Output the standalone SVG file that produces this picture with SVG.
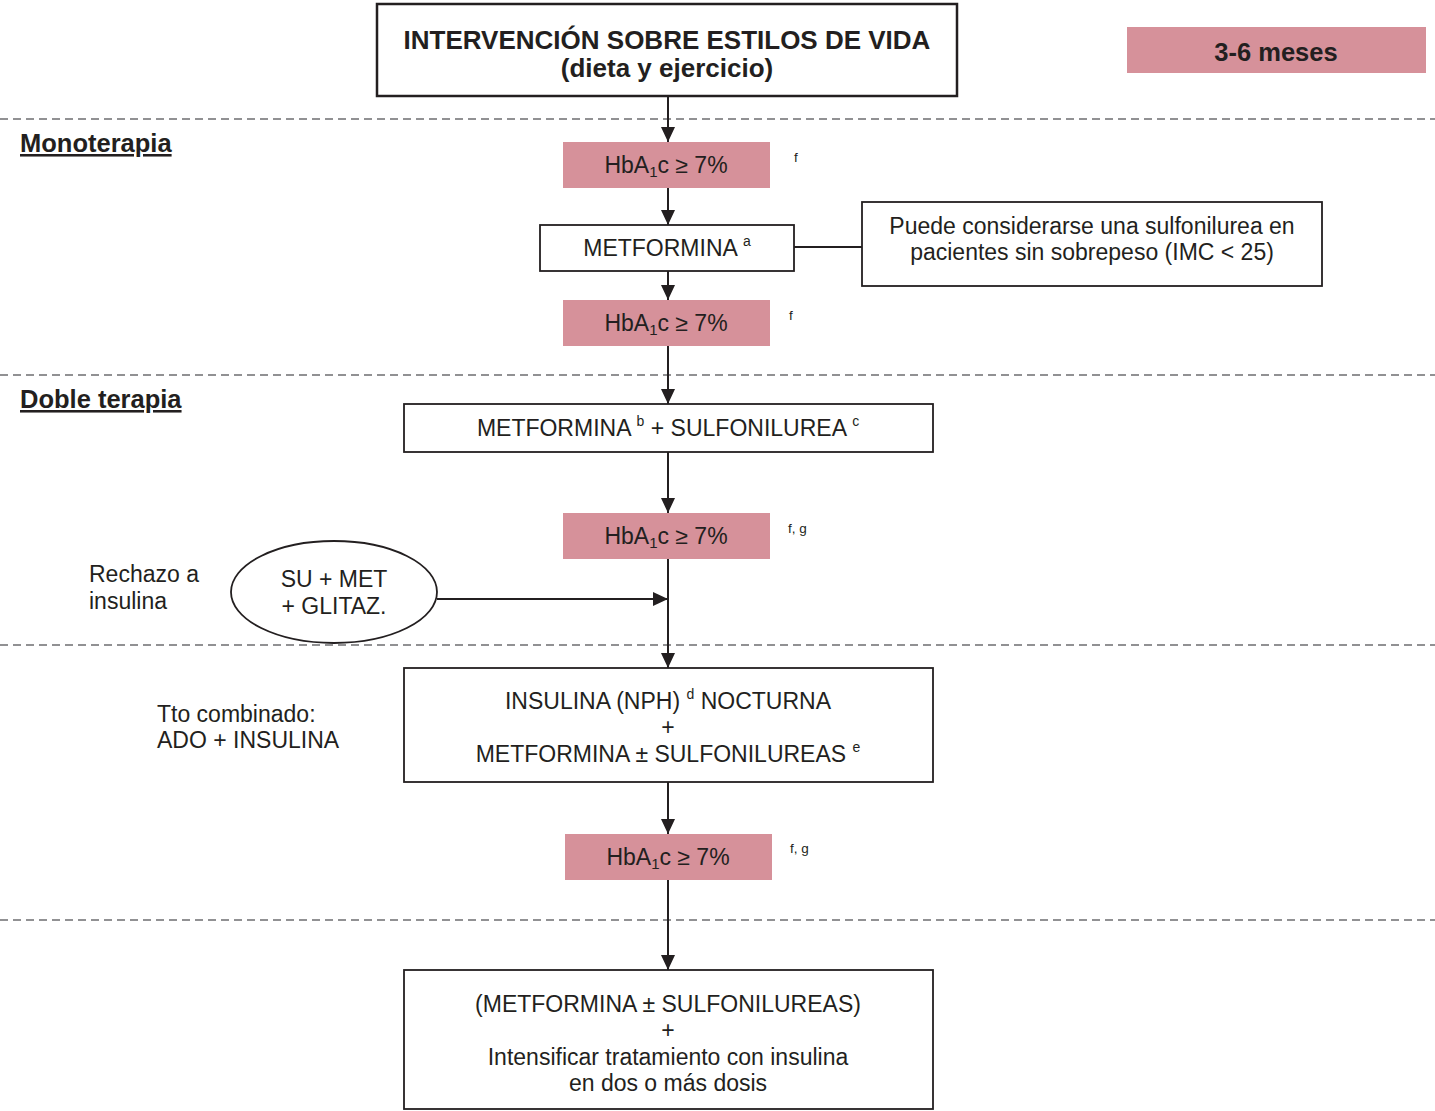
<svg xmlns="http://www.w3.org/2000/svg" width="1435" height="1111" viewBox="0 0 1435 1111">
<style>
text{font-family:"Liberation Sans",Arial,sans-serif;fill:#231F20;font-size:23px}
.b{font-weight:bold;font-size:25.5px}
.c{text-anchor:middle}
.sm{font-size:14px}
.fn{font-size:13.5px}
.sub{font-size:15px}
.box{fill:#fff;stroke:#231F20;stroke-width:1.8}
.pink{fill:#D6919A}
.dash{stroke:#6d6e70;stroke-width:1.6;stroke-dasharray:8 5;fill:none}
.ln{stroke:#231F20;stroke-width:2;fill:none}
.u{text-decoration:underline}
</style>
<defs>
<marker id="ah" markerWidth="15" markerHeight="14" refX="15" refY="7" orient="auto" markerUnits="userSpaceOnUse">
<path d="M0,0 L15,7 L0,14 Z" fill="#231F20"/>
</marker>
</defs>
<g id="separators">
<line class="dash" x1="0" y1="119" x2="1435" y2="119"/>
<line class="dash" x1="0" y1="375" x2="1435" y2="375"/>
<line class="dash" x1="0" y1="645" x2="1435" y2="645"/>
<line class="dash" x1="0" y1="920" x2="1435" y2="920"/>
</g>
<g id="section-labels">
<text x="20" y="152" class="b u">Monoterapia</text>
<text x="20" y="408" class="b u">Doble terapia</text>
<text x="89" y="582">Rechazo a</text>
<text x="89" y="609">insulina</text>
<text x="157" y="722">Tto combinado:</text>
<text x="157" y="748">ADO + INSULINA</text>
</g>
<g id="connectors">
<line class="ln" x1="668" y1="96" x2="668" y2="142" marker-end="url(#ah)"/>
<line class="ln" x1="668" y1="188" x2="668" y2="225" marker-end="url(#ah)"/>
<line class="ln" x1="668" y1="271" x2="668" y2="300" marker-end="url(#ah)"/>
<line class="ln" x1="668" y1="346" x2="668" y2="404" marker-end="url(#ah)"/>
<line class="ln" x1="668" y1="452" x2="668" y2="513" marker-end="url(#ah)"/>
<line class="ln" x1="668" y1="559" x2="668" y2="668" marker-end="url(#ah)"/>
<line class="ln" x1="437" y1="599" x2="668" y2="599" marker-end="url(#ah)"/>
<line class="ln" x1="668" y1="782" x2="668" y2="834" marker-end="url(#ah)"/>
<line class="ln" x1="668" y1="880" x2="668" y2="970" marker-end="url(#ah)"/>
<line class="ln" x1="794" y1="247" x2="862" y2="247"/>
</g>
<g id="n-estilos">
<rect x="377" y="4" width="580" height="92" fill="#fff" stroke="#231F20" stroke-width="2.5"/>
<text x="667" y="49" class="b c" style="font-size:26px">INTERVENCIÓN SOBRE ESTILOS DE VIDA</text>
<text x="667" y="77" class="b c" style="font-size:26px">(dieta y ejercicio)</text>
</g>
<g id="n-meses">
<rect x="1127" y="27" width="299" height="46" class="pink"/>
<text x="1276" y="61" class="b c">3-6 meses</text>
</g>
<g id="n-hba1">
<rect x="563" y="142" width="207" height="46" class="pink"/>
<text x="666" y="173" class="c">HbA<tspan class="sub" dy="4">1</tspan><tspan dy="-4">c ≥ 7%</tspan></text>
<text x="794" y="162" class="fn">f</text>
</g>
<g id="n-metformina">
<rect x="540" y="225" width="254" height="46" class="box"/>
<text x="667" y="256" class="c">METFORMINA <tspan class="sm" dy="-10">a</tspan></text>
</g>
<g id="n-nota">
<rect x="862" y="202" width="460" height="84" class="box"/>
<text x="1092" y="234" class="c">Puede considerarse una sulfonilurea en</text>
<text x="1092" y="260" class="c">pacientes sin sobrepeso (IMC &lt; 25)</text>
</g>
<g id="n-hba2">
<rect x="563" y="300" width="207" height="46" class="pink"/>
<text x="666" y="331" class="c">HbA<tspan class="sub" dy="4">1</tspan><tspan dy="-4">c ≥ 7%</tspan></text>
<text x="789" y="320" class="fn">f</text>
</g>
<g id="n-doble">
<rect x="404" y="404" width="529" height="48" class="box"/>
<text x="668" y="436" class="c">METFORMINA <tspan class="sm" dy="-10">b</tspan><tspan dy="10"> + SULFONILUREA </tspan><tspan class="sm" dy="-10">c</tspan></text>
</g>
<g id="n-hba3">
<rect x="563" y="513" width="207" height="46" class="pink"/>
<text x="666" y="544" class="c">HbA<tspan class="sub" dy="4">1</tspan><tspan dy="-4">c ≥ 7%</tspan></text>
<text x="788" y="533" class="fn">f, g</text>
</g>
<g id="n-glitaz">
<ellipse cx="334" cy="592" rx="103" ry="51" fill="#fff" stroke="#231F20" stroke-width="1.8"/>
<text x="334" y="587" class="c">SU + MET</text>
<text x="334" y="614" class="c">+ GLITAZ.</text>
</g>
<g id="n-insulina">
<rect x="404" y="668" width="529" height="114" class="box"/>
<text x="668" y="709" class="c">INSULINA (NPH) <tspan class="sm" dy="-10">d</tspan><tspan dy="10"> NOCTURNA</tspan></text>
<text x="668" y="735" class="c">+</text>
<text x="668" y="762" class="c">METFORMINA ± SULFONILUREAS <tspan class="sm" dy="-10">e</tspan></text>
</g>
<g id="n-hba4">
<rect x="565" y="834" width="207" height="46" class="pink"/>
<text x="668" y="865" class="c">HbA<tspan class="sub" dy="4">1</tspan><tspan dy="-4">c ≥ 7%</tspan></text>
<text x="790" y="853" class="fn">f, g</text>
</g>
<g id="n-intensificar">
<rect x="404" y="970" width="529" height="139" class="box"/>
<text x="668" y="1012" class="c">(METFORMINA ± SULFONILUREAS)</text>
<text x="668" y="1038" class="c">+</text>
<text x="668" y="1065" class="c">Intensificar tratamiento con insulina</text>
<text x="668" y="1091" class="c">en dos o más dosis</text>
</g>
</svg>
